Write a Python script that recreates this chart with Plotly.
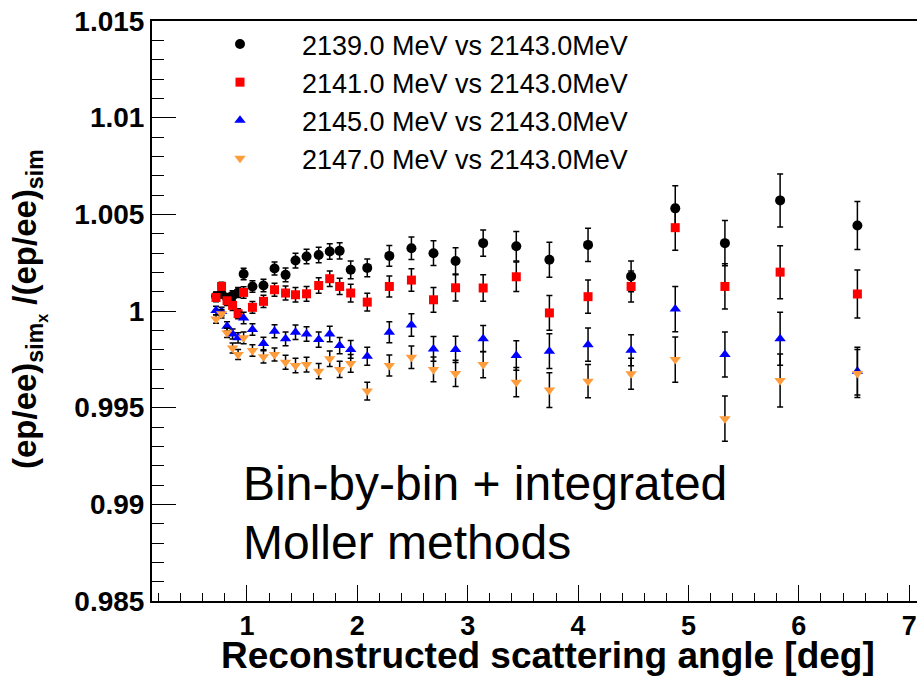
import plotly.graph_objects as go

# Bin centres (reconstructed scattering angle, deg)
angle = [0.72, 0.77, 0.82, 0.87, 0.92, 0.97, 1.05, 1.15, 1.25, 1.35,
         1.44, 1.54, 1.65, 1.75, 1.84, 1.94, 2.09, 2.29, 2.49, 2.69,
         2.89, 3.14, 3.44, 3.74, 4.09, 4.48, 4.88, 5.33, 5.83, 6.53]

ratio_2139 = [1.00076, 1.00089, 1.00067, 1.00079, 1.00096, 1.00191, 1.00127, 1.00132, 1.00220, 1.00187,
              1.00261, 1.00282, 1.00290, 1.00308, 1.00311, 1.00213, 1.00223, 1.00285, 1.00325, 1.00299,
              1.00259, 1.00351, 1.00335, 1.00265, 1.00342, 1.00179, 1.00531, 1.00351, 1.00572, 1.00442]

ratio_2141 = [1.00070, 1.00127, 1.00053, 1.00029, 0.99986, 1.00096, 1.00019, 1.00050, 1.00110, 1.00093,
              1.00084, 1.00089, 1.00132, 1.00167, 1.00127, 1.00093, 1.00046, 1.00127, 1.00160, 1.00058,
              1.00120, 1.00119, 1.00177, 0.99990, 1.00074, 1.00127, 1.00431, 1.00127, 1.00201, 1.00088]

ratio_2145 = [1.00002, 0.99998, 0.99921, 0.99881, 0.99861, 0.99964, 0.99904, 0.99832, 0.99895, 0.99856,
              0.99890, 0.99881, 0.99852, 0.99881, 0.99821, 0.99801, 0.99766, 0.99890, 0.99928, 0.99804,
              0.99801, 0.99857, 0.99770, 0.99792, 0.99826, 0.99797, 1.00010, 0.99775, 0.99856, 0.99689]

ratio_2147 = [0.99959, 0.99986, 0.99887, 0.99809, 0.99775, 0.99861, 0.99796, 0.99763, 0.99775, 0.99735,
              0.99718, 0.99723, 0.99689, 0.99753, 0.99698, 0.99729, 0.99586, 0.99718, 0.99761, 0.99698,
              0.99677, 0.99723, 0.99632, 0.99591, 0.99637, 0.99675, 0.99749, 0.99443, 0.99641, 0.99677]

stat_err = [0.00022, 0.00022, 0.00024, 0.00026, 0.00026, 0.00030, 0.00030, 0.00032, 0.00034, 0.00036,
            0.00038, 0.00038, 0.00040, 0.00040, 0.00042, 0.00046, 0.00046, 0.00054, 0.00058, 0.00064,
            0.00068, 0.00068, 0.00076, 0.00090, 0.00086, 0.00080, 0.00117, 0.00117, 0.00137, 0.00124]

labels = ["2139.0 MeV vs 2143.0MeV", "2141.0 MeV vs 2143.0MeV",
          "2145.0 MeV vs 2143.0MeV", "2147.0 MeV vs 2143.0MeV"]

x_ticks = [1, 2, 3, 4, 5, 6, 7]
y_ticks = [0.985, 0.99, 0.995, 1.0, 1.005, 1.01, 1.015]
y_ticktext = ["0.985", "0.99", "0.995", "1", "1.005", "1.01", "1.015"]

series = [ratio_2139, ratio_2141, ratio_2145, ratio_2147]
colors = ["#000000", "#ff0000", "#0000ff", "#ff9c3c"]
symbols = ["circle", "square", "triangle-up", "triangle-down"]
sizes = [10, 9, 10, 10]

FONT = "Liberation Sans, Arial, Helvetica, sans-serif"

fig = go.Figure()
for vals, lab, col, sym, sz in zip(series, labels, colors, symbols, sizes):
    fig.add_trace(go.Scatter(
        x=angle, y=vals, mode="markers", name=lab,
        marker=dict(symbol=sym, color=col, size=sz, line=dict(width=0)),
        error_y=dict(type="data", array=stat_err, visible=True,
                     color="#000000", thickness=1.5, width=3),
    ))

W, H = 917, 678
L, R, T, B = 152, 0, 21, 77
pw, ph = W - L - R, H - T - B


def px(xp):
    return (xp - L) / pw


def py(yp):
    return (H - B - yp) / ph


fig.update_layout(
    width=W, height=H,
    margin=dict(l=L, r=R, t=T, b=B, pad=0, autoexpand=False),
    paper_bgcolor="white", plot_bgcolor="white",
    font=dict(family=FONT, color="black"),
    showlegend=True,
    legend=dict(
        x=px(178), y=py(20), xanchor="left", yanchor="top",
        bgcolor="rgba(0,0,0,0)", borderwidth=0,
        font=dict(family=FONT, size=27, color="black"),
        itemwidth=114, itemsizing="trace", tracegroupgap=0,
    ),
    xaxis=dict(
        range=[0.14, 7.07], showgrid=False, zeroline=False, automargin=False,
        showline=True, linecolor="black", linewidth=2, mirror=True,
        ticks="inside", ticklen=16, tickwidth=1, tickcolor="black",
        tickvals=x_ticks,
        tickfont=dict(family=FONT, size=27, color="black", weight="bold"),
        minor=dict(ticks="inside", ticklen=8, tickwidth=1, tickcolor="black",
                   dtick=0.2, tick0=0, showgrid=False),
    ),
    yaxis=dict(
        range=[0.985, 1.015], showgrid=False, zeroline=False, automargin=False,
        showline=True, linecolor="black", linewidth=2, mirror=False,
        ticks="inside", ticklen=24, tickwidth=1, tickcolor="black",
        tickvals=y_ticks, ticktext=y_ticktext,
        tickfont=dict(family=FONT, size=28, color="black", weight="bold"),
        minor=dict(ticks="inside", ticklen=12, tickwidth=1, tickcolor="black",
                   dtick=0.001, tick0=0.985, showgrid=False),
    ),
)

annotations = [
    dict(text="Reconstructed scattering angle [deg]", xref="paper", yref="paper",
         x=px(548), y=py(678), xanchor="center", yanchor="bottom", showarrow=False,
         font=dict(family=FONT, size=37, color="black", weight="bold")),
    dict(text="(ep/ee)<sub>sim<sub>x</sub></sub> /(ep/ee)<sub>sim</sub>",
         xref="paper", yref="paper", x=px(28), y=py(309),
         xanchor="center", yanchor="middle", textangle=-90, showarrow=False,
         font=dict(family=FONT, size=33, color="black", weight="bold")),
    dict(text="Bin-by-bin + integrated", xref="paper", yref="paper",
         x=px(241), y=py(483), xanchor="left", yanchor="middle", showarrow=False,
         font=dict(family=FONT, size=48, color="black")),
    dict(text="Moller methods", xref="paper", yref="paper",
         x=px(241), y=py(542), xanchor="left", yanchor="middle", showarrow=False,
         font=dict(family=FONT, size=48, color="black")),
]
fig.update_layout(annotations=annotations)

fig.write_html(
    "out.html",
    config={"displayModeBar": False},
    post_script="document.body.style.margin='0px';document.body.style.padding='0px';"
                "document.body.style.overflow='hidden';",
)
